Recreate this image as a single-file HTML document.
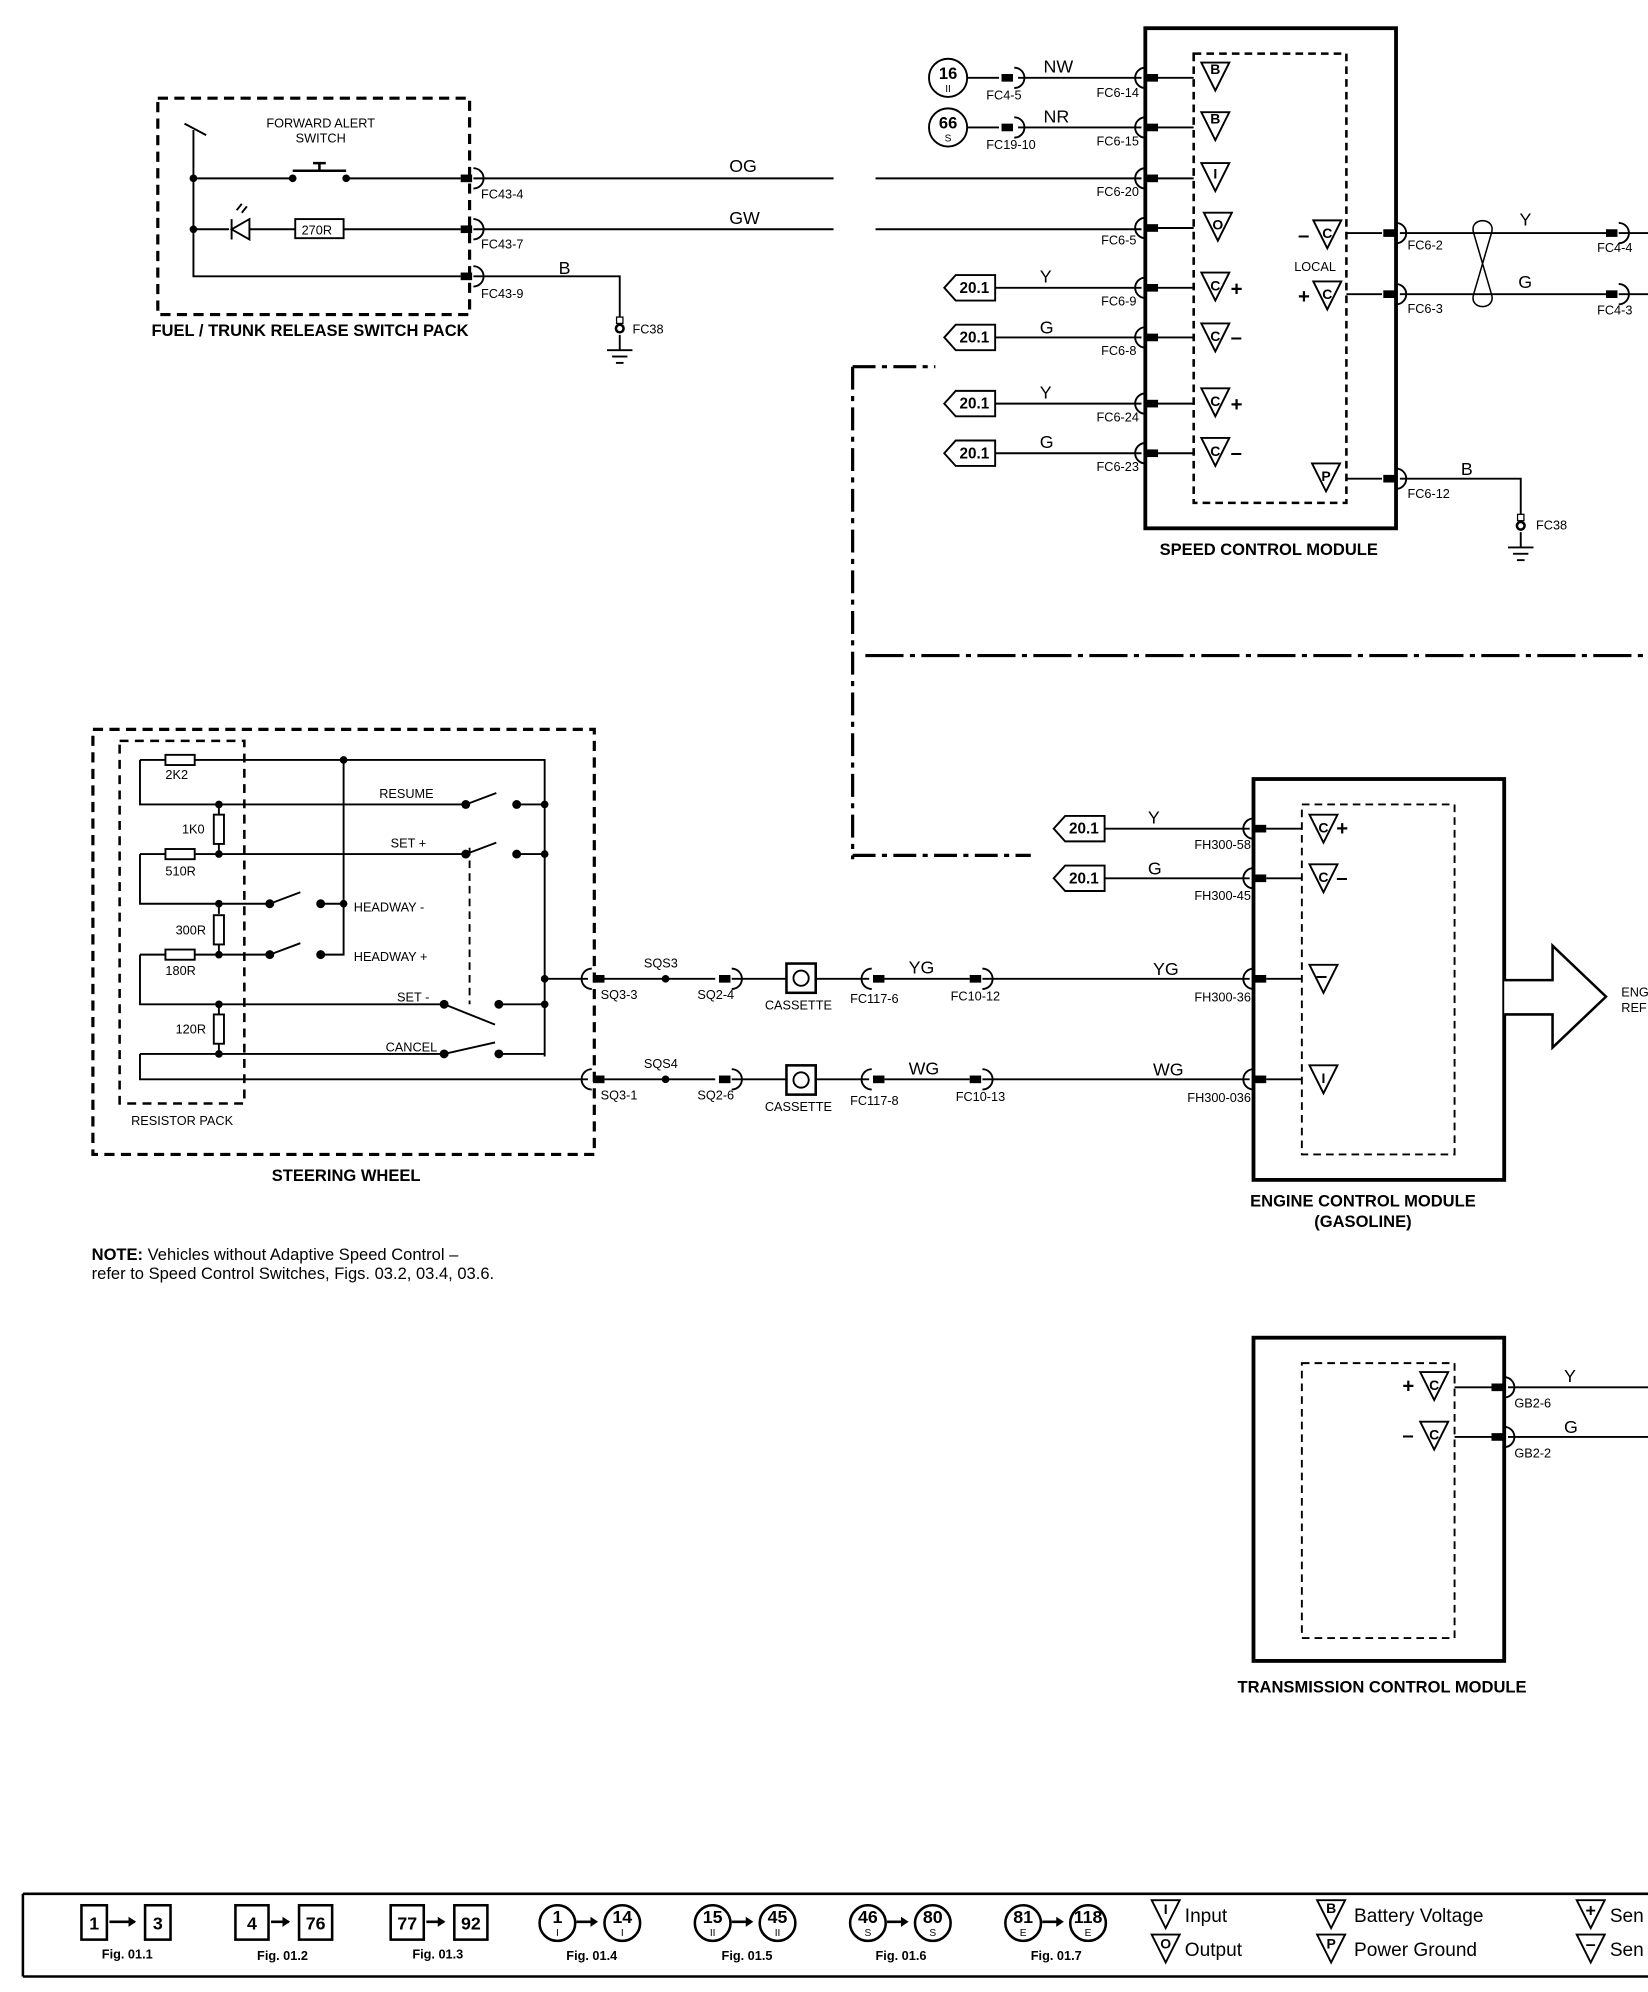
<!DOCTYPE html>
<html><head><meta charset="utf-8"><style>
html,body{margin:0;padding:0;background:#fff}
svg{display:block}
text{font-family:"Liberation Sans",sans-serif;fill:#000}
.s{font-size:10px}
.w{font-size:14px}
.b{font-size:13px;font-weight:bold}
</style></head><body>
<svg width="1648" height="1992" viewBox="0 0 1295 1565" xmlns="http://www.w3.org/2000/svg">
<defs>
<g id="pinL"><path d="M0,-8 a8,8 0 0 0 0,16" fill="none" stroke="#000" stroke-width="1.5"/><rect x="1" y="-3" width="9" height="6"/></g>
<g id="pinR"><path d="M0,-8 a8,8 0 0 1 0,16" fill="none" stroke="#000" stroke-width="1.5"/><rect x="-10" y="-3" width="9" height="6"/></g>
<path id="tri" d="M-11,-10 L11,-10 L0,12 Z" fill="#fff" stroke="#000" stroke-width="1.5"/>
<g id="tag"><path d="M0,0 L9,-10 L40,-10 L40,10 L9,10 Z" fill="#fff" stroke="#000" stroke-width="1.5"/></g>
<g id="res"><rect x="0" y="-4" width="23" height="8" fill="#fff" stroke="#000" stroke-width="1.5"/></g>
<g id="resv"><rect x="-4" y="0" width="8" height="23" fill="#fff" stroke="#000" stroke-width="1.5"/></g>
<g id="gnd"><line x1="0" y1="0" x2="0" y2="12" stroke="#000" stroke-width="1.5"/><line x1="-10" y1="12" x2="10" y2="12" stroke="#000" stroke-width="1.5"/><line x1="-6" y1="17" x2="6" y2="17" stroke="#000" stroke-width="1.5"/><line x1="-3" y1="22" x2="3" y2="22" stroke="#000" stroke-width="1.5"/></g>
<g id="eye"><rect x="-2.5" y="-9" width="5" height="5" fill="#fff" stroke="#000" stroke-width="1"/><circle r="4" fill="#000"/><circle r="2" fill="#fff"/></g>
</defs>
<g stroke="#000" stroke-width="1.5" fill="none">
<rect x="124" y="77" width="245" height="170" stroke-width="2.5" stroke-dasharray="8,5"/>
<path d="M145,97 L162,106 M152,102 V217 H362 M152,140 H232 M272,140 H362 M152,180 H180 M196,180 H232 M270,180 H362"/>
<path d="M230,134 H272 M251,134 V128 M246,128 H256" stroke-width="2"/>
<path d="M182,180 L196,172 V188 Z M182,172 V188" stroke-width="1.5"/>
<path d="M186,165 L190,160 M190,167 L194,162"/>
<rect x="232" y="172" width="38" height="15"/>
<path d="M372,140 H655 M688,140 H897 M372,180 H655 M688,180 H897 M372,217 H487 V250"/>
<path d="M670,288 H735 M670,288 V675 M670,672 H810" stroke-width="2.5" stroke-dasharray="18,5,4,5"/>
<path d="M680,515 H1295" stroke-width="2.5" stroke-dasharray="30,5,4,5"/>
<rect x="900" y="22" width="197" height="393" stroke-width="3"/>
<rect x="938" y="42" width="120" height="353" stroke-dasharray="6,4" stroke-width="2"/>
<path d="M910,61 H938 M910,100 H938 M910,140 H938 M910,179 H938 M910,226 H938 M910,265 H938 M910,317 H938 M910,356 H938"/>
<path d="M1058,183 H1086 M1058,231 H1086 M1058,376 H1086"/>
<path d="M800,61 H897 M800,100 H897 M782,226 H897 M782,265 H897 M782,317 H897 M782,356 H897"/>
<circle cx="745" cy="61" r="15"/><circle cx="745" cy="100" r="15"/>
<path d="M760,61 H785 M760,100 H785"/>
<path d="M1100,183 H1262 M1100,231 H1262 M1272,183 H1295 M1272,231 H1295 M1100,376 H1195 V405"/>
<path d="M1158,183 C1154,170 1176,170 1172,183 L1158,231 C1154,244 1176,244 1172,231 Z" stroke-width="1.2"/>
<rect x="73" y="573" width="394" height="334" stroke-width="2.5" stroke-dasharray="8,5"/>
<rect x="94" y="582" width="98" height="285" stroke-width="2" stroke-dasharray="7,5"/>
<path d="M110,597 H130 M153,597 H428 V830 M110,597 V632 H366 M406,632 H428 M172,632 V640 M172,662 V671 M110,671 H130 M153,671 H366 M406,671 H428 M110,671 V710 H212 M252,710 H270 M270,597 V750 H252 M172,710 V718 M172,742 V750 M110,750 H130 M153,750 H212 M110,750 V789 H349 M392,789 H428 M172,789 V797 M172,820 V828 M110,828 H349 M392,828 H428 M110,828 V848 H462 M428,769 H462"/>
<path d="M366,632 L390,623 M366,671 L390,662 M212,710 L236,701 M212,750 L236,741 M349,789 L389,805 M349,828 L389,819"/>
<path d="M369,666 V789" stroke-dasharray="6,4" stroke-width="1.5"/>
<path d="M475,769 H562 M575,769 H618 M641,769 H683 M695,769 H762 M772,769 H982 M475,848 H562 M575,848 H618 M641,848 H683 M695,848 H762 M772,848 H982"/>
<rect x="618" y="757" width="23" height="23" stroke-width="2"/><circle cx="629.5" cy="768.5" r="6"/>
<rect x="618" y="837" width="23" height="23" stroke-width="2"/><circle cx="629.5" cy="848.5" r="6"/>
<rect x="985" y="612" width="197" height="315" stroke-width="3"/>
<rect x="1023" y="632" width="120" height="275" stroke-dasharray="6,4" stroke-width="1.5"/>
<path d="M995,651 H1023 M995,690 H1023 M995,769 H1023 M995,848 H1023 M868,651 H982 M868,690 H982"/>
<path d="M1182,770 H1220 V743 L1262,783 L1220,823 V797 H1182" stroke-width="2" fill="#fff"/>
<rect x="985" y="1051" width="197" height="254" stroke-width="3"/>
<rect x="1023" y="1071" width="120" height="216" stroke-dasharray="6,4" stroke-width="1.5"/>
<path d="M1143,1090 H1172 M1143,1129 H1172 M1185,1090 H1295 M1185,1129 H1295"/>
<path d="M18,1488 H1295 M18,1553 H1295 M18,1488 V1553" stroke-width="2"/>
</g>
<g fill="#000">
<circle cx="152" cy="140" r="3"/><circle cx="152" cy="180" r="3"/><circle cx="230" cy="140" r="3"/><circle cx="272" cy="140" r="3"/>
<circle cx="270" cy="597" r="3"/><circle cx="172" cy="632" r="3"/><circle cx="172" cy="671" r="3"/><circle cx="172" cy="710" r="3"/><circle cx="172" cy="750" r="3"/><circle cx="172" cy="789" r="3"/><circle cx="172" cy="828" r="3"/>
<circle cx="366" cy="632" r="3.5"/><circle cx="406" cy="632" r="3.5"/><circle cx="366" cy="671" r="3.5"/><circle cx="406" cy="671" r="3.5"/>
<circle cx="212" cy="710" r="3.5"/><circle cx="252" cy="710" r="3.5"/><circle cx="212" cy="750" r="3.5"/><circle cx="252" cy="750" r="3.5"/><circle cx="270" cy="710" r="3"/>
<circle cx="349" cy="789" r="3.5"/><circle cx="392" cy="789" r="3.5"/><circle cx="349" cy="828" r="3.5"/><circle cx="392" cy="828" r="3.5"/>
<circle cx="428" cy="632" r="3"/><circle cx="428" cy="671" r="3"/><circle cx="428" cy="769" r="3"/><circle cx="428" cy="789" r="3"/>
<circle cx="523" cy="769" r="3"/><circle cx="523" cy="848" r="3"/>
</g>
<g fill="#fff" stroke="#000" stroke-width="1.5">
<use href="#res" x="130" y="597"/><use href="#res" x="130" y="671"/><use href="#res" x="130" y="750"/>
<use href="#resv" x="172" y="640"/><use href="#resv" x="172" y="719"/><use href="#resv" x="172" y="797"/>
</g>
<use href="#pinR" x="372" y="140"/><use href="#pinR" x="372" y="180"/><use href="#pinR" x="372" y="217"/>
<use href="#pinR" x="797" y="61"/><use href="#pinR" x="797" y="100"/>
<use href="#pinL" x="900" y="61"/><use href="#pinL" x="900" y="100"/><use href="#pinL" x="900" y="140"/><use href="#pinL" x="900" y="179"/><use href="#pinL" x="900" y="226"/><use href="#pinL" x="900" y="265"/><use href="#pinL" x="900" y="317"/><use href="#pinL" x="900" y="356"/>
<use href="#pinR" x="1097" y="183"/><use href="#pinR" x="1097" y="231"/><use href="#pinR" x="1097" y="376"/>
<use href="#pinR" x="1272" y="183"/><use href="#pinR" x="1272" y="231"/>
<use href="#pinL" x="465" y="769"/><use href="#pinL" x="465" y="848"/>
<use href="#pinR" x="575" y="769"/><use href="#pinR" x="575" y="848"/>
<use href="#pinL" x="685" y="769"/><use href="#pinL" x="685" y="848"/>
<use href="#pinR" x="772" y="769"/><use href="#pinR" x="772" y="848"/>
<use href="#pinL" x="985" y="651"/><use href="#pinL" x="985" y="690"/><use href="#pinL" x="985" y="769"/><use href="#pinL" x="985" y="848"/>
<use href="#pinR" x="1182" y="1090"/><use href="#pinR" x="1182" y="1129"/>
<use href="#eye" x="487" y="258"/><use href="#gnd" x="487" y="263"/>
<use href="#eye" x="1195" y="413"/><use href="#gnd" x="1195" y="418"/>
<use href="#tag" x="742" y="226"/><use href="#tag" x="742" y="265"/><use href="#tag" x="742" y="317"/><use href="#tag" x="742" y="356"/>
<use href="#tag" x="828" y="651"/><use href="#tag" x="828" y="690"/>
<g><text x="754" y="230" style="font-size:12px;font-weight:bold">20.1</text><text x="754" y="269" style="font-size:12px;font-weight:bold">20.1</text><text x="754" y="321" style="font-size:12px;font-weight:bold">20.1</text><text x="754" y="360" style="font-size:12px;font-weight:bold">20.1</text><text x="840" y="655" style="font-size:12px;font-weight:bold">20.1</text><text x="840" y="694" style="font-size:12px;font-weight:bold">20.1</text></g>
<use href="#tri" x="955" y="59"/><use href="#tri" x="955" y="98"/><use href="#tri" x="955" y="138"/><use href="#tri" x="957" y="177"/><use href="#tri" x="955" y="224"/><use href="#tri" x="955" y="264"/><use href="#tri" x="955" y="315"/><use href="#tri" x="955" y="354"/>
<use href="#tri" x="1043" y="183"/><use href="#tri" x="1043" y="231"/><use href="#tri" x="1042" y="374"/>
<use href="#tri" x="1040" y="650"/><use href="#tri" x="1040" y="689"/><use href="#tri" x="1040" y="768"/><use href="#tri" x="1040" y="847"/>
<use href="#tri" x="1127" y="1088"/><use href="#tri" x="1127" y="1127"/>
<g style="font-size:11px;font-weight:bold" text-anchor="middle">
<text x="955" y="58">B</text><text x="955" y="97">B</text><text x="955" y="140">I</text><text x="957" y="180">O</text>
<text x="955" y="228">C</text><text x="955" y="268">C</text><text x="955" y="319">C</text><text x="955" y="358">C</text>
<text x="1043" y="187">C</text><text x="1043" y="235">C</text><text x="1042" y="378">P</text>
<text x="1040" y="654">C</text><text x="1040" y="693">C</text><text x="1040" y="851">I</text>
<text x="1127" y="1092">C</text><text x="1127" y="1131">C</text>
</g>
<g style="font-size:16px;font-weight:bold">
<text x="967" y="232">+</text><text x="967" y="270">–</text><text x="967" y="323">+</text><text x="967" y="361">–</text>
<text x="1020" y="190">–</text><text x="1020" y="238">+</text>
<text x="1050" y="656">+</text><text x="1050" y="695">–</text><text x="1034" y="772">–</text>
<text x="1102" y="1094">+</text><text x="1102" y="1133">–</text>
</g>
<g class="s">
<text x="252" y="100" text-anchor="middle" class="s">FORWARD ALERT</text><text x="252" y="112" text-anchor="middle" class="s">SWITCH</text>
<text x="237" y="184" class="s">270R</text>
<text x="378" y="156" class="s">FC43-4</text><text x="378" y="195" class="s">FC43-7</text><text x="378" y="234" class="s">FC43-9</text>
<text x="497" y="262" class="s">FC38</text>
<text x="775" y="78" class="s">FC4-5</text><text x="775" y="117" class="s">FC19-10</text>
<g text-anchor="end"><text x="895" y="76" class="s">FC6-14</text><text x="895" y="114" class="s">FC6-15</text><text x="895" y="154" class="s">FC6-20</text><text x="893" y="192" class="s">FC6-5</text><text x="893" y="240" class="s">FC6-9</text><text x="893" y="279" class="s">FC6-8</text><text x="895" y="331" class="s">FC6-24</text><text x="895" y="370" class="s">FC6-23</text>
<text x="983" y="667" class="s">FH300-58</text><text x="983" y="707" class="s">FH300-45</text><text x="983" y="787" class="s">FH300-36</text><text x="983" y="866" class="s">FH300-036</text></g>
<text x="1017" y="213" class="s">LOCAL</text>
<text x="1106" y="196" class="s">FC6-2</text><text x="1106" y="246" class="s">FC6-3</text><text x="1106" y="391" class="s">FC6-12</text>
<text x="1255" y="198" class="s">FC4-4</text><text x="1255" y="247" class="s">FC4-3</text><text x="1207" y="416" class="s">FC38</text>
<text x="130" y="612" class="s">2K2</text><text x="143" y="655" class="s">1K0</text><text x="130" y="688" class="s">510R</text><text x="138" y="734" class="s">300R</text><text x="130" y="766" class="s">180R</text><text x="138" y="812" class="s">120R</text>
<text x="298" y="627" class="s">RESUME</text><text x="307" y="666" class="s">SET +</text><text x="278" y="716" class="s">HEADWAY -</text><text x="278" y="755" class="s">HEADWAY +</text><text x="312" y="787" class="s">SET -</text><text x="303" y="826" class="s">CANCEL</text>
<text x="103" y="884" class="s">RESISTOR PACK</text>
<text x="472" y="785" class="s">SQ3-3</text><text x="472" y="864" class="s">SQ3-1</text>
<text x="506" y="760" class="s">SQS3</text><text x="506" y="839" class="s">SQS4</text>
<text x="548" y="785" class="s">SQ2-4</text><text x="548" y="864" class="s">SQ2-6</text>
<text x="601" y="793" class="s">CASSETTE</text><text x="601" y="873" class="s">CASSETTE</text>
<text x="668" y="788" class="s">FC117-6</text><text x="668" y="868" class="s">FC117-8</text>
<text x="747" y="786" class="s">FC10-12</text><text x="751" y="865" class="s">FC10-13</text>
<text x="1190" y="1106" class="s">GB2-6</text><text x="1190" y="1145" class="s">GB2-2</text>
<text x="1274" y="783" class="s">ENG</text><text x="1274" y="795" class="s">REF</text>
</g>
<g class="w">
<text x="573" y="135" class="w">OG</text><text x="573" y="176" class="w">GW</text><text x="439" y="215" class="w">B</text>
<text x="820" y="57" class="w">NW</text><text x="820" y="96" class="w">NR</text>
<text x="817" y="222" class="w">Y</text><text x="817" y="262" class="w">G</text><text x="817" y="313" class="w">Y</text><text x="817" y="352" class="w">G</text>
<text x="1194" y="177" class="w">Y</text><text x="1193" y="226" class="w">G</text><text x="1148" y="373" class="w">B</text>
<text x="902" y="647" class="w">Y</text><text x="902" y="687" class="w">G</text>
<text x="714" y="765" class="w">YG</text><text x="906" y="766" class="w">YG</text><text x="714" y="844" class="w">WG</text><text x="906" y="845" class="w">WG</text>
<text x="1229" y="1086" class="w">Y</text><text x="1229" y="1126" class="w">G</text>
</g>
<g class="b">
<text x="119" y="264" class="b">FUEL / TRUNK RELEASE SWITCH PACK</text>
<text x="997" y="436" text-anchor="middle" class="b">SPEED CONTROL MODULE</text>
<text x="272" y="928" text-anchor="middle" class="b">STEERING WHEEL</text>
<text x="1071" y="948" text-anchor="middle" class="b">ENGINE CONTROL MODULE</text>
<text x="1071" y="964" text-anchor="middle" class="b">(GASOLINE)</text>
<text x="1086" y="1330" text-anchor="middle" class="b">TRANSMISSION CONTROL MODULE</text>
</g>
<text x="72" y="990" style="font-size:13px"><tspan font-weight="bold">NOTE:</tspan> Vehicles without Adaptive Speed Control –</text>
<text x="72" y="1005" style="font-size:13px">refer to Speed Control Switches, Figs. 03.2, 03.4, 03.6.</text>
<g text-anchor="middle"><text x="745" y="62" style="font-size:13px;font-weight:bold">16</text><text x="745" y="72" style="font-size:8px">II</text><text x="745" y="101" style="font-size:13px;font-weight:bold">66</text><text x="745" y="111" style="font-size:8px">S</text></g>
<g stroke="#000" stroke-width="2" fill="none">
<rect x="64" y="1497" width="20" height="27"/><rect x="114" y="1497" width="20" height="27"/>
<rect x="185" y="1497" width="26" height="27"/><rect x="235" y="1497" width="26" height="27"/>
<rect x="307" y="1497" width="26" height="27"/><rect x="357" y="1497" width="26" height="27"/>
<circle cx="438" cy="1511" r="14"/><circle cx="489" cy="1511" r="14"/>
<circle cx="560" cy="1511" r="14"/><circle cx="611" cy="1511" r="14"/>
<circle cx="682" cy="1511" r="14"/><circle cx="733" cy="1511" r="14"/>
<circle cx="804" cy="1511" r="14"/><circle cx="855" cy="1511" r="14"/>
<path d="M86,1510 H106 M213,1510 H227 M335,1510 H349 M453,1510 H468 M575,1510 H590 M697,1510 H712 M819,1510 H834" stroke-width="2"/>
</g>
<g fill="#000"><path d="M107,1510 l-6,-4 v8z M228,1510 l-6,-4 v8z M350,1510 l-6,-4 v8z M470,1510 l-6,-4 v8z M592,1510 l-6,-4 v8z M714,1510 l-6,-4 v8z M836,1510 l-6,-4 v8z"/></g>
<g text-anchor="middle" style="font-size:14px;font-weight:bold">
<text x="74" y="1516">1</text><text x="124" y="1516">3</text><text x="198" y="1516">4</text><text x="248" y="1516">76</text><text x="320" y="1516">77</text><text x="370" y="1516">92</text>
<text x="438" y="1511">1</text><text x="489" y="1511">14</text><text x="560" y="1511">15</text><text x="611" y="1511">45</text><text x="682" y="1511">46</text><text x="733" y="1511">80</text><text x="804" y="1511">81</text><text x="855" y="1511">118</text>
</g>
<g text-anchor="middle" style="font-size:8px">
<text x="438" y="1521">I</text><text x="489" y="1521">I</text><text x="560" y="1521">II</text><text x="611" y="1521">II</text><text x="682" y="1521">S</text><text x="733" y="1521">S</text><text x="804" y="1521">E</text><text x="855" y="1521">E</text>
</g>
<g text-anchor="middle" style="font-size:10px;font-weight:bold">
<text x="100" y="1539">Fig. 01.1</text><text x="222" y="1540">Fig. 01.2</text><text x="344" y="1539">Fig. 01.3</text><text x="465" y="1540">Fig. 01.4</text><text x="587" y="1540">Fig. 01.5</text><text x="708" y="1540">Fig. 01.6</text><text x="830" y="1540">Fig. 01.7</text>
</g>
<use href="#tri" x="916" y="1503"/><use href="#tri" x="916" y="1530"/><use href="#tri" x="1046" y="1503"/><use href="#tri" x="1046" y="1530"/><use href="#tri" x="1250" y="1503"/><use href="#tri" x="1250" y="1530"/>
<g text-anchor="middle" style="font-size:11px;font-weight:bold"><text x="916" y="1504">I</text><text x="916" y="1531">O</text><text x="1046" y="1503">B</text><text x="1046" y="1531">P</text><text x="1250" y="1506" style="font-size:14px;font-weight:bold">+</text><text x="1250" y="1532" style="font-size:14px;font-weight:bold">–</text></g>
<g style="font-size:15px"><text x="931" y="1510">Input</text><text x="931" y="1537">Output</text><text x="1064" y="1510">Battery Voltage</text><text x="1064" y="1537">Power Ground</text><text x="1265" y="1510">Sen</text><text x="1265" y="1537">Sen</text></g>
</svg>
</body></html>
